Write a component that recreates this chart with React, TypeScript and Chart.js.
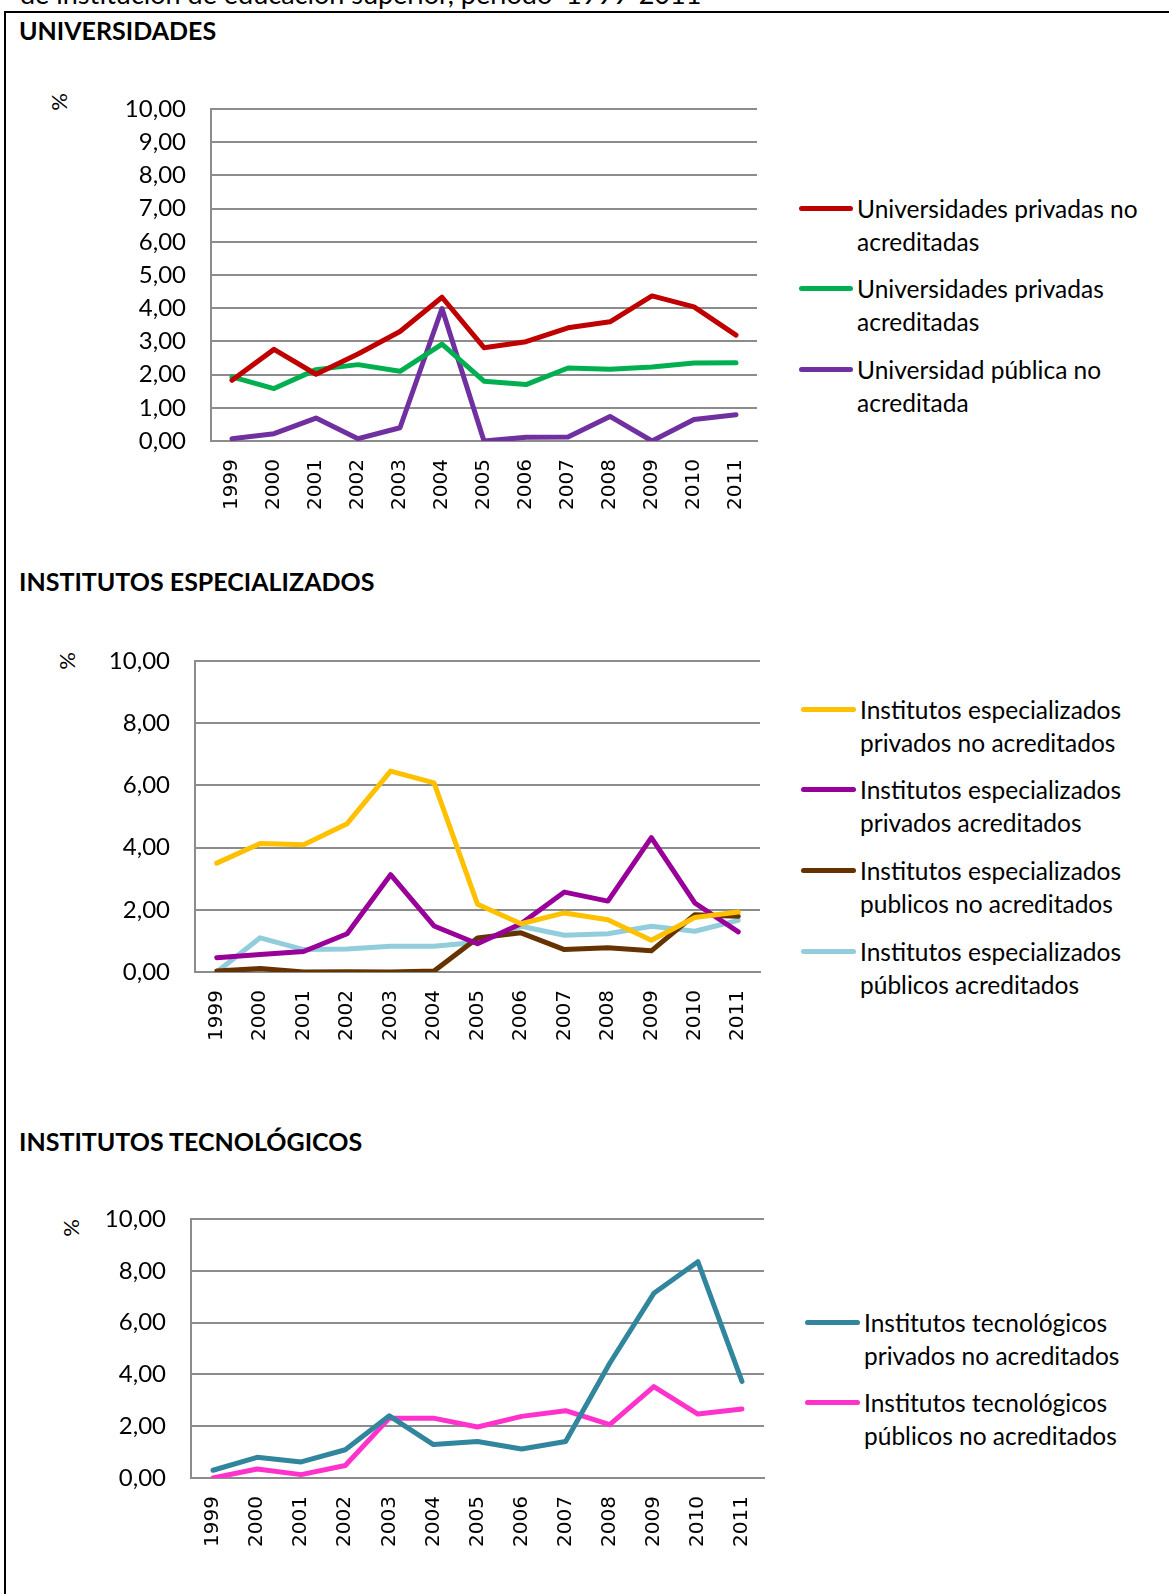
import React, { useEffect, useRef } from "react";
import { Chart, registerables } from "chart.js";

Chart.register(...registerables);

// ---------- data ----------
const YEARS = ["1999", "2000", "2001", "2002", "2003", "2004", "2005", "2006", "2007", "2008", "2009", "2010", "2011"];

const UNI_PRIV_NO_ACR = [1.83, 2.76, 2.01, 2.62, 3.30, 4.33, 2.81, 2.99, 3.41, 3.59, 4.37, 4.04, 3.19];
const UNI_PRIV_ACR = [1.93, 1.58, 2.15, 2.30, 2.10, 2.92, 1.80, 1.70, 2.20, 2.16, 2.23, 2.35, 2.36];
const UNI_PUB_NO_ACR = [0.07, 0.22, 0.69, 0.07, 0.40, 3.99, 0.0, 0.11, 0.12, 0.74, 0.0, 0.65, 0.79];

const IE_PRIV_NO_ACR = [3.50, 4.13, 4.09, 4.77, 6.46, 6.08, 2.18, 1.55, 1.90, 1.68, 1.02, 1.75, 1.93];
const IE_PRIV_ACR = [0.46, 0.56, 0.66, 1.23, 3.13, 1.48, 0.91, 1.55, 2.57, 2.28, 4.32, 2.22, 1.29];
const IE_PUB_NO_ACR = [0.03, 0.11, 0.0, 0.01, 0.0, 0.03, 1.09, 1.26, 0.72, 0.78, 0.68, 1.84, 1.79];
const IE_PUB_ACR = [0.0, 1.10, 0.72, 0.74, 0.83, 0.83, 0.96, 1.47, 1.18, 1.23, 1.47, 1.31, 1.66];

const IT_PRIV_NO_ACR = [0.30, 0.80, 0.62, 1.09, 2.40, 1.29, 1.41, 1.12, 1.41, 4.43, 7.13, 8.35, 3.73];
const IT_PUB_NO_ACR = [0.0, 0.35, 0.13, 0.48, 2.31, 2.31, 1.97, 2.38, 2.60, 2.06, 3.53, 2.47, 2.66];

const TITLE_CUT = "de institución de educación superior, período  1999-2011";
const HEADINGS = ["UNIVERSIDADES", "INSTITUTOS ESPECIALIZADOS", "INSTITUTOS TECNOLÓGICOS"];
const UNIT_LABEL = "%";

const UNI_LABELS = ["Universidades privadas no\nacreditadas", "Universidades privadas\nacreditadas", "Universidad pública no\nacreditada"];
const IE_LABELS = [
  "Institutos especializados\nprivados no acreditados",
  "Institutos especializados\nprivados acreditados",
  "Institutos especializados\npublicos no acreditados",
  "Institutos especializados\npúblicos acreditados",
];
const IT_LABELS = ["Institutos tecnológicos\nprivados no acreditados", "Institutos tecnológicos\npúblicos no acreditados"];

const UNI_COLORS = ["#C00000", "#00B050", "#7030A0"];
const IE_COLORS = ["#FFC000", "#990099", "#663300", "#92CDDC"];
const IT_COLORS = ["#31859C", "#FF33CC"];

const Y_MAX = 10;
const GRID = "#8C8C8C";
const TEXT_FONT = "Lato, 'Open Sans', sans-serif";

type Series = { label: string; data: number[]; color: string };
type Box = { left: number; top: number; width: number; height: number };
type Plot = { left: number; right: number; top: number; bottom: number };

function LineChart({ box, plot, series, step }: { box: Box; plot: Plot; series: Series[]; step: number }) {
  const ref = useRef<HTMLCanvasElement | null>(null);
  useEffect(() => {
    if (!ref.current) return;
    const yW = plot.left - box.left;
    const padTop = plot.top - box.top;
    const padRight = box.left + box.width - plot.right;
    const xH = box.top + box.height - plot.bottom;
    const chart = new Chart(ref.current, {
      type: "line",
      data: {
        labels: YEARS,
        datasets: series.map((s) => ({
          label: s.label.replace("\n", " "),
          data: s.data,
          borderColor: s.color,
          backgroundColor: s.color,
          borderWidth: 5,
          pointRadius: 0,
          pointHoverRadius: 0,
          tension: 0,
          fill: false,
          borderCapStyle: "round",
          borderJoinStyle: "round",
        })),
      },
      options: {
        animation: false,
        responsive: false,
        maintainAspectRatio: false,
        devicePixelRatio: 1,
        layout: { padding: { top: padTop, right: padRight, left: 0, bottom: 0 } },
        plugins: { legend: { display: false }, tooltip: { enabled: false } },
        scales: {
          x: {
            type: "category",
            offset: true,
            grid: { display: false, drawTicks: false },
            border: { display: true, color: GRID, width: 2 },
            ticks: {
              autoSkip: false,
              minRotation: 90,
              maxRotation: 90,
              padding: 18,
              color: "#000",
              font: { family: "'DejaVu Sans', sans-serif", size: 20 },
            },
            afterFit: (s: any) => {
              s.height = xH;
              s.paddingLeft = 0;
              s.paddingRight = 0;
              s.paddingTop = 0;
              s.paddingBottom = 0;
            },
          },
          y: {
            min: 0,
            max: Y_MAX,
            ticks: {
              stepSize: step,
              padding: 25,
              color: "#000",
              font: { family: TEXT_FONT, size: 24 },
              callback: (v: any) => Number(v).toFixed(2).replace(".", ","),
            },
            grid: { color: GRID, lineWidth: 2, drawTicks: false },
            border: { display: true, color: GRID, width: 2 },
            afterFit: (s: any) => {
              s.width = yW;
              s.paddingLeft = 0;
              s.paddingRight = 0;
              s.paddingTop = 0;
              s.paddingBottom = 0;
            },
          },
        },
      } as any,
    });
    return () => chart.destroy();
  }, []);
  return (
    <canvas
      ref={ref}
      width={box.width}
      height={box.height}
      style={{ position: "absolute", left: box.left, top: box.top, width: box.width, height: box.height }}
    />
  );
}

function Legend({ x, textX, y0, gap, series }: { x: number; textX: number; y0: number; gap: number; series: Series[] }) {
  const lh = 33;
  return (
    <>
      {series.map((s, i) => (
        <div key={i} style={{ position: "absolute", left: x, top: y0 + i * gap - lh / 2, display: "flex" }}>
          <div
            style={{
              width: textX - x - 4,
              height: 5,
              borderRadius: 3,
              background: s.color,
              marginTop: lh / 2 - 2.5,
              marginRight: 4,
            }}
          />
          <div style={{ font: `24.5px ${TEXT_FONT}`, lineHeight: `${lh}px`, whiteSpace: "pre", color: "#000" }}>{s.label}</div>
        </div>
      ))}
    </>
  );
}

function Heading({ text, y }: { text: string; y: number }) {
  return (
    <div
      style={{
        position: "absolute",
        left: 19,
        top: y - 16,
        font: `bold 25px ${TEXT_FONT}`,
        lineHeight: "32px",
        color: "#000",
        whiteSpace: "nowrap",
      }}
    >
      {text}
    </div>
  );
}

function Unit({ x, y }: { x: number; y: number }) {
  return (
    <div
      style={{
        position: "absolute",
        left: x - 15,
        top: y - 15,
        width: 30,
        height: 30,
        font: `22px ${TEXT_FONT}`,
        lineHeight: "30px",
        textAlign: "center",
        transform: "rotate(-90deg)",
        color: "#000",
      }}
    >
      {UNIT_LABEL}
    </div>
  );
}

const mk = (labels: string[], data: number[][], colors: string[]): Series[] =>
  labels.map((l, i) => ({ label: l, data: data[i], color: colors[i] }));

export default function App() {
  const uni = mk(UNI_LABELS, [UNI_PRIV_NO_ACR, UNI_PRIV_ACR, UNI_PUB_NO_ACR], UNI_COLORS);
  const ie = mk(IE_LABELS, [IE_PRIV_NO_ACR, IE_PRIV_ACR, IE_PUB_NO_ACR, IE_PUB_ACR], IE_COLORS);
  const it = mk(IT_LABELS, [IT_PRIV_NO_ACR, IT_PUB_NO_ACR], IT_COLORS);
  return (
    <div style={{ position: "absolute", left: 0, top: 0, width: 1169, height: 1594, overflow: "hidden", background: "#fff" }}>
      <div
        style={{
          position: "absolute",
          left: 20,
          top: -20,
          font: `27px ${TEXT_FONT}`,
          lineHeight: "27px",
          whiteSpace: "pre",
          color: "#000",
        }}
      >
        {TITLE_CUT}
      </div>
      <div style={{ position: "absolute", left: 4, top: 11, width: 1165, height: 2, background: "#000" }} />
      <div style={{ position: "absolute", left: 4, top: 11, width: 2, height: 1583, background: "#000" }} />

      <Heading text={HEADINGS[0]} y={30} />
      <Unit x={59} y={102} />
      <LineChart box={{ left: 100, top: 80, width: 667, height: 450 }} plot={{ left: 211, right: 757, top: 109, bottom: 441 }} series={uni} step={1} />
      <Legend x={799} textX={857} y0={208} gap={80.5} series={uni} />

      <Heading text={HEADINGS[1]} y={581} />
      <Unit x={67} y={661} />
      <LineChart box={{ left: 80, top: 630, width: 700, height: 440 }} plot={{ left: 195, right: 760, top: 661, bottom: 972 }} series={ie} step={2} />
      <Legend x={801} textX={860} y0={709} gap={80.7} series={ie} />

      <Heading text={HEADINGS[2]} y={1141} />
      <Unit x={71} y={1228} />
      <LineChart box={{ left: 80, top: 1190, width: 700, height: 390 }} plot={{ left: 191, right: 764, top: 1219, bottom: 1478 }} series={it} step={2} />
      <Legend x={805} textX={864} y0={1322} gap={80.5} series={it} />
    </div>
  );
}
